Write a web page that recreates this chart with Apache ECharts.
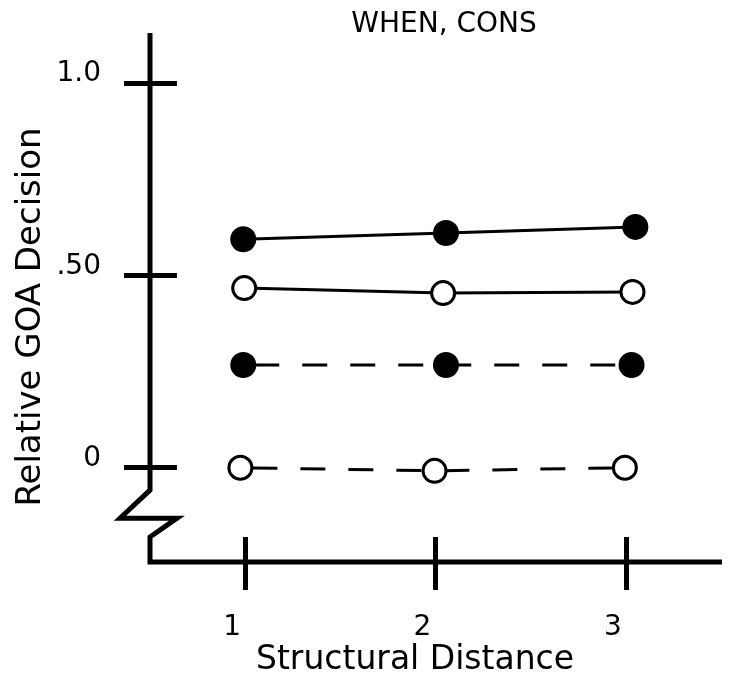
<!DOCTYPE html>
<html>
<head>
<meta charset="utf-8">
<title>WHEN, CONS</title>
<style>
html, body { margin: 0; padding: 0; background: #fff; }
#main { width: 737px; height: 688px; }
</style>
<script src="https://cdn.jsdelivr.net/npm/echarts@6/dist/echarts.min.js"></script>
</head>
<body>
<div id="main"></div>
<script>
var xTicks = [1, 2, 3];
var xTickLabels = ['1', '2', '3'];
var yTicks = [0, 0.5, 1.0];
var yTickLabels = ['0', '.50', '1.0'];

// filled circles, solid line
var filledSolidX = [0.99, 2.055, 3.05];
var filledSolidY = [0.594, 0.610, 0.626];
// open circles, solid line
var openSolidX = [0.995, 2.04, 3.035];
var openSolidY = [0.467, 0.454, 0.457];
// filled circles, dashed line
var filledDashX = [0.99, 2.055, 3.03];
var filledDashY = [0.267, 0.267, 0.267];
// open circles, dashed line
var openDashX = [0.975, 1.995, 2.995];
var openDashY = [0, -0.008, 0];

var FONT = 'DejaVu Sans';
var X_MIN = 0.5, X_MAX = 3.5, Y_MIN = -0.245, Y_MAX = 1.13;

function pairs(xs, ys) {
	var out = [];
	for (var i = 0; i < xs.length; i++) out.push([xs[i], ys[i]]);
	return out;
}

function makeSeries(xs, ys, filled, dashed, offset) {
	return {
		type: 'line',
		data: pairs(xs, ys),
		symbol: 'circle',
		symbolSize: filled ? 26 : 23,
		itemStyle: {
			color: filled ? '#000' : '#fff',
			borderColor: '#000',
			borderWidth: filled ? 0 : 3
		},
		lineStyle: {
			color: '#000',
			width: 3,
			type: dashed ? [25, 23] : 'solid',
			dashOffset: dashed ? offset : 0
		},
		z: 5
	};
}

var myChart = echarts.init(document.getElementById('main'));
var option = {
	animation: false,
	backgroundColor: '#fff',
	title: {
		text: 'WHEN, CONS',
		left: 444,
		top: 11,
		padding: 0,
		textAlign: 'center',
		textStyle: { fontFamily: FONT, fontSize: 28, fontWeight: 'normal', color: '#000' }
	},
	grid: { left: 150, right: 16, top: 33, height: 529 },
	xAxis: [
		{
			type: 'value', min: X_MIN, max: X_MAX, position: 'bottom',
			axisLine: { show: false, onZero: false },
			splitLine: { show: false },
			axisTick: { show: true, inside: false, length: 28, customValues: xTicks,
				lineStyle: { color: '#000', width: 5 } },
			axisLabel: {
				customValues: xTicks, margin: 52, padding: [0, 26, 0, 0],
				color: '#000', fontFamily: FONT, fontSize: 28,
				formatter: function (v) { return xTickLabels[xTicks.indexOf(v)]; }
			}
		},
		{
			type: 'value', min: X_MIN, max: X_MAX, position: 'bottom',
			axisLine: { show: false, onZero: false },
			splitLine: { show: false },
			axisLabel: { show: false },
			axisTick: { show: true, inside: true, length: 25, customValues: xTicks,
				lineStyle: { color: '#000', width: 5 } }
		}
	],
	yAxis: [
		{
			type: 'value', min: Y_MIN, max: Y_MAX, position: 'left',
			axisLine: { show: false, onZero: false },
			splitLine: { show: false },
			axisTick: { show: true, inside: false, length: 26, customValues: yTicks,
				lineStyle: { color: '#000', width: 5 } },
			axisLabel: {
				customValues: yTicks, margin: 49, verticalAlign: 'bottom', lineHeight: 18,
				color: '#000', fontFamily: FONT, fontSize: 28,
				formatter: function (v) { return yTickLabels[yTicks.indexOf(v)]; }
			}
		},
		{
			type: 'value', min: Y_MIN, max: Y_MAX, position: 'left',
			axisLine: { show: false, onZero: false },
			splitLine: { show: false },
			axisLabel: { show: false },
			axisTick: { show: true, inside: true, length: 27, customValues: yTicks,
				lineStyle: { color: '#000', width: 5 } }
		}
	],
	series: [
		makeSeries(filledSolidX, filledSolidY, true, false, 0),
		makeSeries(openSolidX, openSolidY, false, false, 0),
		makeSeries(filledDashX, filledDashY, true, true, 37),
		makeSeries(openDashX, openDashY, false, true, 36)
	]
};
myChart.setOption(option);

// axis frame with the break mark on the y axis, plus axis titles
function drawFrame() {
	var toPx = function (x, y) { return myChart.convertToPixel({ gridIndex: 0 }, [x, y]); };
	var top = toPx(X_MIN, Y_MAX);
	var b1 = toPx(X_MIN, -0.058);
	var zz = toPx(X_MIN, -0.131);
	var b2 = toPx(X_MIN, -0.18);
	var corner = toPx(X_MIN, Y_MIN);
	var end = toPx(X_MAX, Y_MIN);
	myChart.setOption({
		graphic: [
			{
				type: 'polyline', z: 10,
				shape: { points: [top, b1, [zz[0] - 30, zz[1]], [zz[0] + 27, zz[1]], b2, corner, [end[0] + 1, end[1]]] },
				style: { stroke: '#000', lineWidth: 5, fill: null, lineJoin: 'miter' }
			},
			{
				type: 'text', x: 31, y: 317, rotation: Math.PI / 2,
				style: { text: 'Relative GOA Decision', fontFamily: FONT, fontSize: 34,
					fill: '#000', align: 'center', verticalAlign: 'middle' }
			},
			{
				type: 'text', x: 415, y: 660,
				style: { text: 'Structural Distance', fontFamily: FONT, fontSize: 33,
					fill: '#000', align: 'center', verticalAlign: 'middle' }
			}
		]
	});
}
drawFrame();

window.addEventListener('resize', function () {
	myChart.resize();
	drawFrame();
});
</script>
</body>
</html>
